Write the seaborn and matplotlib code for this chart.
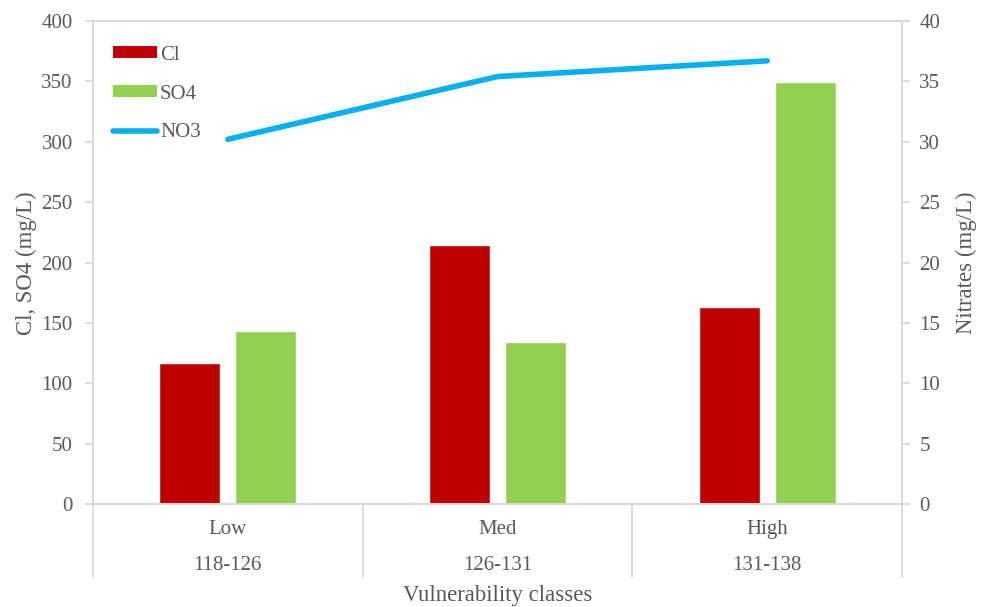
import matplotlib
matplotlib.use("Agg")
import matplotlib.pyplot as plt
import matplotlib.transforms as mtransforms
from matplotlib.patches import Patch
from matplotlib.lines import Line2D
import numpy as np
import pandas as pd
import seaborn as sns

# Data
classes = ["Low", "Med", "High"]
ranges = ["118-126", "126-131", "131-138"]
cl = [116.5, 214.5, 163.0]
so4 = [143.0, 134.0, 349.5]
no3 = [30.2, 35.4, 36.7]

CL_COLOR = "#C00000"
SO4_COLOR = "#92D050"
NO3_COLOR = "#00B0F0"
TEXT = "#595959"
SPINE = "#D9D9D9"

sns.set_theme(style="white")
plt.rcParams["font.family"] = ["Liberation Serif", "DejaVu Serif"]
plt.rcParams["text.color"] = TEXT
plt.rcParams["axes.labelcolor"] = TEXT
plt.rcParams["xtick.color"] = TEXT
plt.rcParams["ytick.color"] = TEXT

TICK_FS = 15
LABEL_FS = 16.4

bars = pd.DataFrame({
    "Class": classes * 2,
    "Ion": ["Cl"] * len(classes) + ["SO4"] * len(classes),
    "Value": cl + so4,
})

fig = plt.figure(figsize=(9.81, 6.07), dpi=100)
ax = fig.add_axes([93 / 981, 1 - 504 / 607, (902 - 93) / 981, (504 - 21) / 607])

sns.barplot(data=bars, x="Class", y="Value", hue="Ion", order=classes,
            palette=[CL_COLOR, SO4_COLOR], width=0.564, gap=0.2,
            saturation=1, ax=ax, legend=False)
ax.set_ylim(0, 400)
ax.set_yticks(np.arange(0, 401, 50))
ax.set_xlim(-0.5, len(classes) - 0.5)

ax2 = ax.twinx()
sns.pointplot(x=classes, y=no3, order=classes, color=NO3_COLOR, marker="",
              linewidth=4, ax=ax2, errorbar=None)
for ln in ax2.lines:
    ln.set_solid_capstyle("round")
ax2.set_ylim(0, 40)
ax2.set_yticks(np.arange(0, 41, 5))
ax2.set_xlim(-0.5, len(classes) - 0.5)

for a in (ax, ax2):
    for s in a.spines.values():
        s.set_color(SPINE)
        s.set_linewidth(1.3)
    a.set_xlabel("")
    a.set_xticks([])
    a.grid(False)

ax.tick_params(axis="y", which="both", left=True, length=6, width=1.3,
               color=SPINE, labelsize=TICK_FS, pad=8.6)
ax2.tick_params(axis="y", which="both", right=True, length=6, width=1.3,
                color=SPINE, labelsize=TICK_FS, pad=6.5)
ax.set_ylabel("")
ax2.set_ylabel("")
fig.text(26 / 981, 1 - 263 / 607, "Cl, SO4 (mg/L)", rotation=90,
         ha="center", va="center", fontsize=LABEL_FS, color=TEXT)
fig.text(966 / 981, 1 - 263 / 607, "Nitrates (mg/L)", rotation=90,
         ha="center", va="center", fontsize=LABEL_FS, color=TEXT)

# Two-level category axis
trans = mtransforms.blended_transform_factory(ax.transData, ax.transAxes)
for i, (c, r) in enumerate(zip(classes, ranges)):
    ax.text(i, -0.052, c, transform=trans, ha="center", va="center",
            fontsize=TICK_FS, color=TEXT)
    ax.text(i, -0.127, r, transform=trans, ha="center", va="center",
            fontsize=TICK_FS, color=TEXT)
for b in np.arange(len(classes) + 1) - 0.5:
    ax.plot([b, b], [0, -0.152], transform=trans, color=SPINE, lw=1.3,
            clip_on=False)
ax.text(0.5, -0.19, "Vulnerability classes", transform=ax.transAxes,
        ha="center", va="center", fontsize=LABEL_FS, color=TEXT)

handles = [
    Patch(facecolor=CL_COLOR, edgecolor="none", label="Cl"),
    Patch(facecolor=SO4_COLOR, edgecolor="none", label="SO4"),
    Line2D([], [], color=NO3_COLOR, lw=4, solid_capstyle="round", label="NO3"),
]
leg = ax2.legend(handles=handles, loc="upper left", bbox_to_anchor=(0.0145, 0.966),
                 borderaxespad=0, frameon=False, fontsize=TICK_FS,
                 handlelength=2.1, handleheight=0.5, handletextpad=0.15,
                 labelspacing=0.95, labelcolor=TEXT)

fig.savefig("out.png", dpi=100)
